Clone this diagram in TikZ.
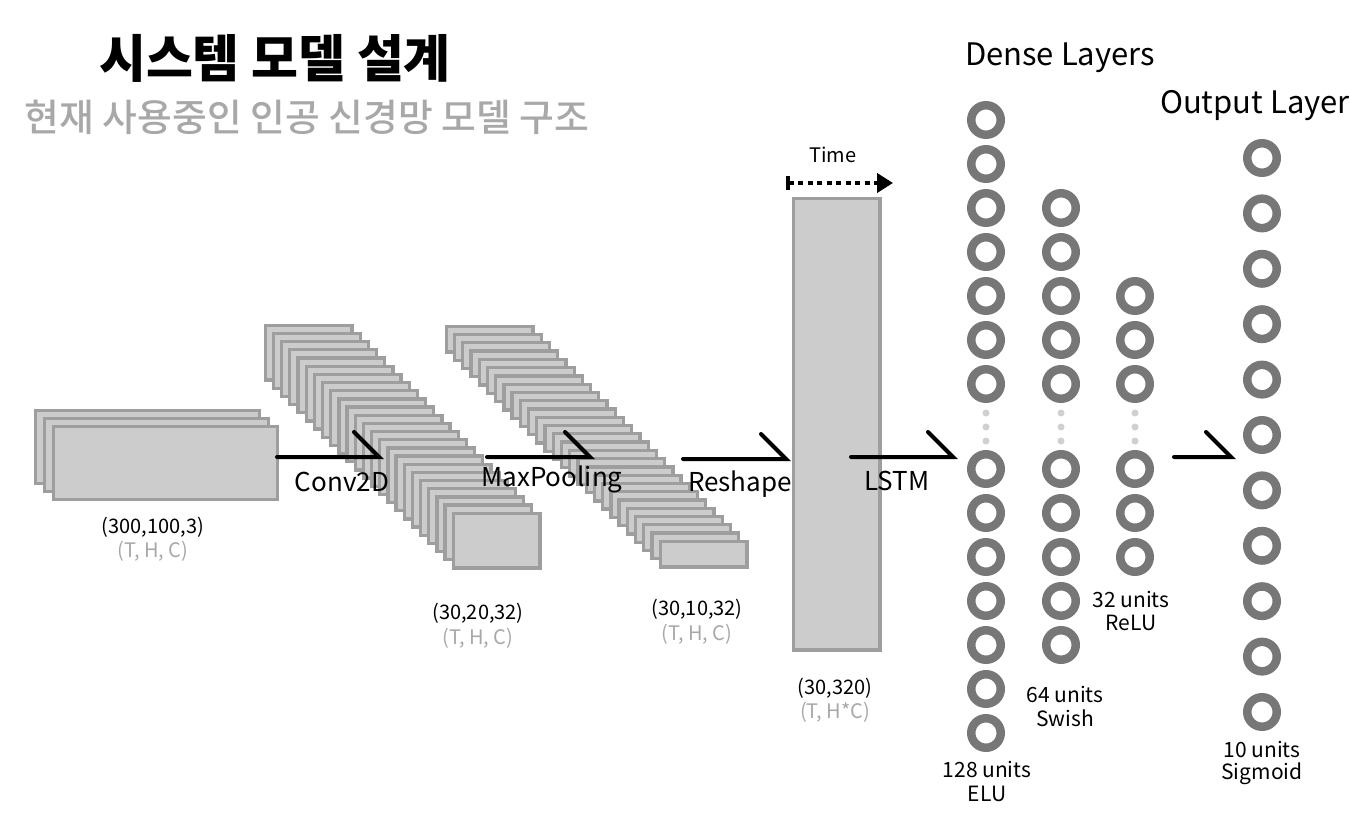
\documentclass[tikz,border=0pt]{standalone}
\usepackage{fontspec}
\setmainfont{Noto Sans CJK KR}
\IfFontExistsTF{Noto Sans CJK KR Medium}{\newfontfamily\subfont{Noto Sans CJK KR Medium}}{\newcommand\subfont{\bfseries}}
\usetikzlibrary{arrows.meta}
\definecolor{fmfill}{HTML}{CCCCCC}
\definecolor{fmdraw}{HTML}{9E9E9E}
\definecolor{neu}{HTML}{777777}
\definecolor{dotc}{HTML}{D0D0D0}
\definecolor{subc}{HTML}{A8A8A8}
\begin{document}
\begin{tikzpicture}[x=1pt,y=-1pt,
  fmap/.style={draw=fmdraw, fill=fmfill, line width=3.3pt, inner sep=0pt, anchor=north west},
  neuron/.style={circle, draw=neu, line width=8.5pt, minimum size=29.5pt, inner sep=0pt},
  vdot/.style={circle, fill=dotc, minimum size=7pt, inner sep=0pt},
  flow/.style={line width=4pt, line cap=round, line join=miter},
  oplabel/.style={font=\fontsize{26}{30}\selectfont},
  shapelabel/.style={font=\fontsize{20}{24}\selectfont},
  dimlabel/.style={font=\fontsize{20}{24}\selectfont, text=subc},
  unitlabel/.style={font=\fontsize{21}{25}\selectfont},
  headlabel/.style={font=\fontsize{31}{36}\selectfont},
]
\useasboundingbox (0,0) rectangle (1350,813);

% titles
\node[font=\fontsize{51}{56}\selectfont\bfseries] (title) at (275,58) {시스템 모델 설계};
\node[font=\subfont\fontsize{37.8}{42}\selectfont, text=subc] (subtitle) at (307,117) {현재 사용중인 인공 신경망 모델 구조};

% input stack
\foreach \i in {0,1,2}{
  \node[fmap, minimum width=224pt, minimum height=73pt] (in\i) at (33.65+9*\i, 408.65+8*\i) {};
}
% conv stack
\foreach \i in {0,...,23}{
  \node[fmap, minimum width=86.7pt, minimum height=54.7pt] (cv\i) at (263.65+8.174*\i, 323.65+8.174*\i) {};
}
% pool stack
\foreach \i in {0,...,26}{
  \node[fmap, minimum width=86.7pt, minimum height=25.7pt] (pl\i) at (444.65+8.23*\i, 324.65+8.27*\i) {};
}
% lstm block
\node[fmap, minimum width=86.7pt, minimum height=451.7pt] (lstm) at (791.65,196.65) {};

% time arrow
\coordinate (t1) at (786,183);
\coordinate (t2) at (893,183);
\draw[line width=4pt, dash pattern=on 5pt off 4.5pt, {Bar[width=14pt, line width=3.5pt]}-{Triangle[length=16pt, width=19pt]}] (t1) -- (t2);
\node[shapelabel] (timel) at (833,155) {Time};

% flow arrows
\coordinate (a1s) at (277,457); \coordinate (a1e) at (379,457);
\coordinate (a2s) at (487,457); \coordinate (a2e) at (590,457);
\coordinate (a3s) at (683,459); \coordinate (a3e) at (786,459);
\coordinate (a4s) at (851,457); \coordinate (a4e) at (953,457);
\coordinate (a5s) at (1174,457); \coordinate (a5e) at (1231,457);
\foreach \a in {a1,a2,a3,a4,a5}{
  \draw[flow] (\a s) -- (\a e) -- ++(-25,-25);
}
\node[oplabel] (l1) at (342,482) {Conv2D};
\node[oplabel] (l2) at (552,479) {MaxPooling};
\node[oplabel] (l3) at (740,484) {Reshape};
\node[oplabel] (l4) at (897,481) {LSTM};

% shape labels
\node[shapelabel] (s1) at (153,527) {(300,100,3)};
\node[dimlabel] (d1) at (153,551) {(T, H, C)};
\node[shapelabel] (s2) at (478,613) {(30,20,32)};
\node[dimlabel] (d2) at (478,638) {(T, H, C)};
\node[shapelabel] (s3) at (697,609) {(30,10,32)};
\node[dimlabel] (d3) at (697,634) {(T, H, C)};
\node[shapelabel] (s4) at (835,688) {(30,320)};
\node[dimlabel] (d4) at (835,712) {(T, H*C)};

% dense layers
\node[headlabel] (dense) at (1060,58) {Dense Layers};
\node[headlabel] (outl) at (1255,106) {Output Layer};

\foreach \k in {0,...,6}{
  \node[neuron] (n1t\k) at (986,120+44*\k) {};
  \node[neuron] (n1b\k) at (986,469+44*\k) {};
}
\foreach \k in {0,...,4}{
  \node[neuron] (n2t\k) at (1061,208+44*\k) {};
  \node[neuron] (n2b\k) at (1061,469+44*\k) {};
}
\foreach \k in {0,...,2}{
  \node[neuron] (n3t\k) at (1135,296+44*\k) {};
  \node[neuron] (n3b\k) at (1135,469+44*\k) {};
}
\foreach \x/\c in {986/1,1061/2,1135/3}{
  \foreach \y/\j in {413/1,427/2,441/3}{
    \node[vdot] (v\c\j) at (\x,\y) {};
  }
}
\foreach \k in {0,...,10}{
  \node[neuron] (no\k) at (1262,158+55.4*\k) {};
}

\node[unitlabel] (u1a) at (987,769) {128 units};
\node[unitlabel] (u1b) at (987,794) {ELU};
\node[unitlabel] (u2a) at (1065,694) {64 units};
\node[unitlabel] (u2b) at (1065,718) {Swish};
\node[unitlabel] (u3a) at (1131,599) {32 units};
\node[unitlabel] (u3b) at (1131,623) {ReLU};
\node[unitlabel] (u4a) at (1262,749) {10 units};
\node[unitlabel] (u4b) at (1262,774) {Sigmoid};
\end{tikzpicture}
\end{document}
